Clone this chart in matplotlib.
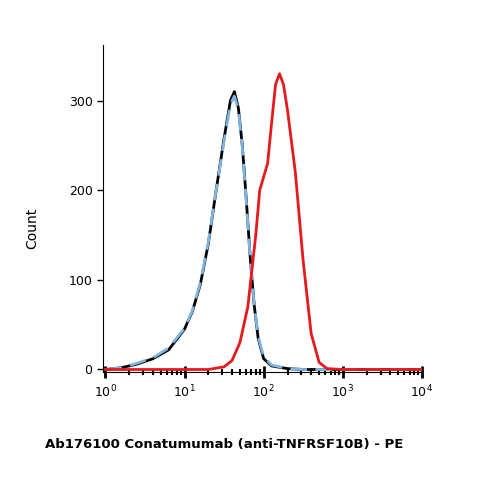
import numpy as np
import matplotlib
matplotlib.use("Agg")
import matplotlib.pyplot as plt

black_logx = [0.0,0.2,0.4,0.6,0.8,1.0,1.1,1.2,1.3,1.4,1.5,1.58,1.63,1.68,1.73,1.78,1.83,1.88,1.93,2.0,2.1,2.3,2.5,4.0]
black_y = [0,2,6,12,22,45,65,95,140,200,258,300,310,292,250,190,125,72,35,12,4,1,0,0]
blue_logx = [0.0,0.2,0.4,0.6,0.8,1.0,1.1,1.2,1.3,1.4,1.5,1.58,1.63,1.68,1.73,1.78,1.83,1.88,1.93,2.0,2.1,2.3,2.5,4.0]
blue_y = [0,2,7,13,24,46,66,97,142,200,255,296,305,290,248,188,124,72,37,14,5,1,0,0]
red_logx = [0.0,1.3,1.5,1.6,1.7,1.8,1.9,1.95,2.0,2.05,2.1,2.15,2.2,2.25,2.3,2.4,2.5,2.6,2.7,2.8,3.0,4.0]
red_y = [0,0,3,10,30,70,150,200,215,230,275,318,330,318,290,220,120,40,8,1,0,0]

fig = plt.figure(figsize=(4.79,4.79), dpi=100)
ax = fig.add_axes([0.215,0.223,0.666,0.683])
ax.plot(10**np.array(black_logx), black_y, color='black', lw=2, zorder=2)
ax.plot(10**np.array(blue_logx), blue_y, color='#7fb5e0', lw=2, ls=(0,(6,3)), zorder=3)
ax.plot(10**np.array(red_logx), red_y, color='#e41a1c', lw=2, zorder=4)
ax.set_xscale('log')
ax.set_xlim(10**-0.03, 1e4)
ax.set_ylim(-3, 362)
ax.set_yticks([0,100,200,300])
ax.set_xticks([1,10,100,1000,10000])
ax.set_xticklabels([r'$10^{%d}$' % i for i in range(5)])
for s in ['top','right']:
    ax.spines[s].set_visible(False)
ax.tick_params(axis='x', which='major', direction='inout', length=9, width=2, labelsize=9, colors='black')
ax.tick_params(axis='x', which='minor', direction='inout', length=5, width=1.5)
ax.tick_params(axis='y', labelsize=9, width=1, length=4)
ax.set_ylabel('Count', fontsize=10)
ax.yaxis.set_label_coords(-0.2, 0.44)
ax.set_xlabel('Ab176100 Conatumumab (anti-TNFRSF10B) - PE', fontsize=9.5, fontweight='semibold')
ax.xaxis.set_label_coords(0.38, -0.2)
fig.savefig('out.png', dpi=100)
